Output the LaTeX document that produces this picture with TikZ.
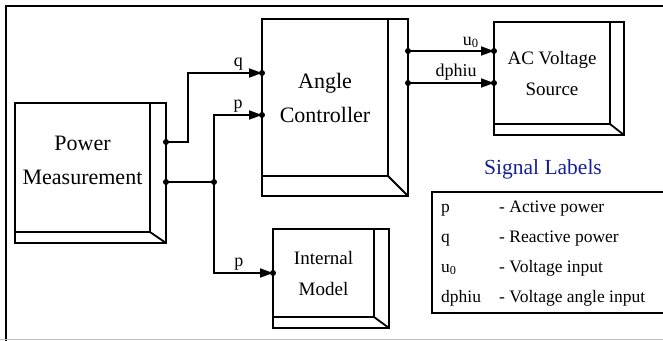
\documentclass[tikz,border=0pt]{standalone}
\usepackage{fontspec}
\setmainfont{Liberation Serif}
\usepackage{xcolor}
\usetikzlibrary{arrows.meta,positioning,calc}
\definecolor{sigblue}{RGB}{20,30,150}
\tikzset{
  block/.style={draw, line width=1.8pt, align=center, inner sep=0pt, outer sep=0pt, font=\fontsize{19}{31}\selectfont},
  bigblock/.style={block, font=\fontsize{22}{34}\selectfont},
  wire/.style={line width=1.8pt},
  sig/.style={wire, -{Triangle[length=13pt, width=9pt]}},
  sigtxt/.style={font=\fontsize{18}{20}\selectfont, inner sep=2pt},
  keybox/.style={draw, line width=1.3pt, inner sep=0pt, outer sep=0pt},
  keytxt/.style={font=\fontsize{17.5}{20}\selectfont, inner sep=0pt, anchor=base west}
}

\begin{document}
\begin{tikzpicture}[x=1pt, y=-1pt]
  \useasboundingbox (0,0) rectangle (663,340);
  \draw[line width=1.5pt] (6,341) |- (670,6);
  \draw[gray!50, line width=1.2pt] (0,339.4) -- (663,339.4);

  \node[bigblock, minimum width=135, minimum height=129,
        label={[font=\fontsize{22}{34}\selectfont, align=center, yshift=7pt]center:Power\\Measurement}] (pm) at (82.5,167.5) {};
  \node[bigblock, minimum width=126, minimum height=157] (ac) at (325,97.5) {Angle\\Controller};
  \node[block, minimum width=116, minimum height=102] (vs) at (552,73) {AC Voltage\\Source};
  \node[block, minimum width=101, minimum height=88] (im) at (323.5,273) {Internal\\Model};
  \foreach \n/\dx/\dy in {pm/16/11, ac/20/20, vs/14/11, im/15/11} {
    \draw[wire] (\n.north west) rectangle ($(\n.south east)+(\dx,\dy)$);
    \draw[wire] (\n.south east) -- ++(\dx,\dy);
  }

  \coordinate (pm-q) at ($(pm.north east)+(16,39)$);
  \coordinate (pm-p) at ($(pm.north east)+(16,79)$);
  \coordinate (ac-q) at ($(ac.north west)+(0,54)$);
  \coordinate (ac-p) at ($(ac.north west)+(0,96)$);
  \coordinate (ac-u) at ($(ac.north east)+(20,32)$);
  \coordinate (ac-d) at ($(ac.north east)+(20,64)$);
  \coordinate (vs-u) at ($(vs.north west)+(0,29)$);
  \coordinate (vs-d) at ($(vs.north west)+(0,61)$);
  \coordinate (im-p) at (im.west);
  \coordinate (j) at ($(pm-p)+(48,0)$);

  \draw[sig] (pm-q) -- ++(22,0) |- node[sigtxt, pos=0.84, above] {q} (ac-q);
  \draw[wire] (pm-p) -- (j);
  \draw[sig] (j) |- node[sigtxt, pos=0.75, above] {p} (ac-p);
  \draw[sig] (j) |- node[sigtxt, pos=0.71, above] {p} (im-p);
  \draw[sig] (ac-u) -- node[sigtxt, pos=0.73, above] {u\textsubscript{0}} (vs-u);
  \draw[sig] (ac-d) -- node[sigtxt, pos=0.56, above] {dphiu} (vs-d);
  \foreach \c in {pm-q, pm-p, j, ac-q, ac-p, ac-u, ac-d, vs-u, vs-d, im-p}
    \fill (\c) circle (3);

  \node[font=\fontsize{21.5}{24}\selectfont, text=sigblue] (keyhead) at (543,169) {Signal Labels};
  \node[keybox, anchor=north west, minimum width=240, minimum height=121] (key) at (432,192) {};
  \foreach \s/\d [count=\i] in {p/Active power, q/Reactive power, u\textsubscript{0}/Voltage input, dphiu/Voltage angle input} {
    \node[keytxt] (sym\i) at (441,182+30*\i) {\s};
    \node[keytxt] (desc\i) at (499,182+30*\i) {- \d};
  }
\end{tikzpicture}
\end{document}
